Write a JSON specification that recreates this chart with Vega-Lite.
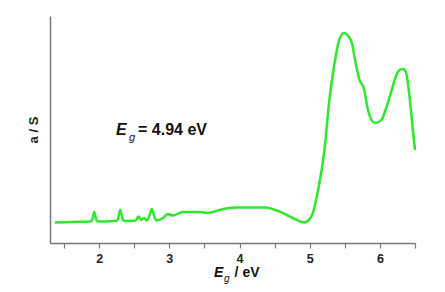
{
  "$schema": "https://vega.github.io/schema/vega-lite/v6.json",
  "width": 365,
  "height": 227,
  "autosize": "none",
  "padding": {"left": 50, "top": 16, "right": 30, "bottom": 49},
  "background": "white",
  "config": {
    "view": {"stroke": null},
    "font": "Liberation Sans"
  },
  "layer": [
    {
      "data": {"values": [
        {"E": 1.37, "a": 20.5}, {"E": 1.6, "a": 21}, {"E": 1.87, "a": 21.5}, {"E": 1.9, "a": 23},
        {"E": 1.93, "a": 31}, {"E": 1.96, "a": 23}, {"E": 1.99, "a": 21.5}, {"E": 2.2, "a": 22},
        {"E": 2.26, "a": 22.5}, {"E": 2.3, "a": 33}, {"E": 2.34, "a": 23}, {"E": 2.37, "a": 22},
        {"E": 2.52, "a": 22.5}, {"E": 2.56, "a": 26.5}, {"E": 2.6, "a": 23}, {"E": 2.64, "a": 25},
        {"E": 2.68, "a": 22.5}, {"E": 2.72, "a": 28}, {"E": 2.75, "a": 34}, {"E": 2.79, "a": 26},
        {"E": 2.82, "a": 22.5}, {"E": 2.91, "a": 25}, {"E": 2.98, "a": 29}, {"E": 3.05, "a": 27.5},
        {"E": 3.19, "a": 31}, {"E": 3.39, "a": 31}, {"E": 3.46, "a": 31}, {"E": 3.53, "a": 30},
        {"E": 3.77, "a": 34}, {"E": 3.96, "a": 35.5}, {"E": 4.2, "a": 35.5}, {"E": 4.36, "a": 35.5},
        {"E": 4.57, "a": 31.5}, {"E": 4.76, "a": 25}, {"E": 4.92, "a": 20.5}, {"E": 5.02, "a": 26},
        {"E": 5.12, "a": 53}, {"E": 5.21, "a": 93}, {"E": 5.28, "a": 143}, {"E": 5.35, "a": 178},
        {"E": 5.42, "a": 203}, {"E": 5.49, "a": 210}, {"E": 5.55, "a": 207}, {"E": 5.6, "a": 200},
        {"E": 5.66, "a": 178}, {"E": 5.71, "a": 163}, {"E": 5.77, "a": 155}, {"E": 5.83, "a": 133},
        {"E": 5.89, "a": 122}, {"E": 5.94, "a": 120}, {"E": 6.02, "a": 123}, {"E": 6.09, "a": 135},
        {"E": 6.16, "a": 151}, {"E": 6.23, "a": 167}, {"E": 6.28, "a": 173}, {"E": 6.33, "a": 174},
        {"E": 6.37, "a": 171}, {"E": 6.42, "a": 148}, {"E": 6.47, "a": 113}, {"E": 6.5, "a": 93}
      ]},
      "mark": {"type": "line", "color": "#2ee82e", "strokeWidth": 2.5, "interpolate": "monotone"},
      "encoding": {
        "x": {
          "field": "E", "type": "quantitative",
          "scale": {"domain": [1.3, 6.5], "nice": false, "zero": false},
          "axis": {
            "title": null,
            "grid": false,
            "values": [1.5, 2, 2.5, 3, 3.5, 4, 4.5, 5, 5.5, 6, 6.5],
            "tickCount": 30,
            "labelExpr": "datum.value % 1 === 0 ? format(datum.value, 'd') : ''",
            "labelOverlap": false,
            "labelFlush": false,
            "labelBound": false,
            "domainColor": "#777777",
            "domainWidth": 1.5,
            "tickColor": "#777777",
            "tickSize": 5,
            "tickWidth": 1.2,
            "labelFont": "Liberation Sans",
            "labelFontWeight": "bold",
            "labelFontSize": 12.5,
            "labelColor": "#222222",
            "labelPadding": 4
          }
        },
        "y": {
          "field": "a", "type": "quantitative",
          "scale": {"domain": [0, 227], "nice": false},
          "axis": {
            "title": "a / S",
            "grid": false,
            "ticks": false,
            "labels": false,
            "domainColor": "#777777",
            "domainWidth": 1.5,
            "titleFont": "Liberation Sans",
            "titleFontWeight": "bold",
            "titleFontSize": 13,
            "titleColor": "#222222",
            "titlePadding": 10
          }
        }
      }
    },
    {
      "data": {"values": [{}]},
      "mark": {"type": "text", "align": "left", "baseline": "alphabetic", "fontSize": 16, "fontWeight": "bold", "fontStyle": "italic", "font": "Liberation Sans", "color": "#111111"},
      "encoding": {"x": {"datum": 2.24}, "y": {"datum": 108}, "text": {"value": "E"}}
    },
    {
      "data": {"values": [{}]},
      "mark": {"type": "text", "align": "left", "baseline": "alphabetic", "fontSize": 11, "fontStyle": "italic", "font": "Liberation Sans", "color": "#111111"},
      "encoding": {"x": {"datum": 2.425}, "y": {"datum": 102}, "text": {"value": "g"}}
    },
    {
      "data": {"values": [{}]},
      "mark": {"type": "text", "align": "left", "baseline": "alphabetic", "fontSize": 16, "fontWeight": "bold", "font": "Liberation Sans", "color": "#111111"},
      "encoding": {"x": {"datum": 2.554}, "y": {"datum": 108}, "text": {"value": "= 4.94 eV"}}
    },
    {
      "data": {"values": [{}]},
      "mark": {"type": "text", "align": "left", "baseline": "alphabetic", "fontSize": 14, "fontWeight": "bold", "fontStyle": "italic", "font": "Liberation Sans", "color": "#111111"},
      "encoding": {"x": {"datum": 3.636}, "y": {"datum": -34}, "text": {"value": "E"}}
    },
    {
      "data": {"values": [{}]},
      "mark": {"type": "text", "align": "left", "baseline": "alphabetic", "fontSize": 10, "fontStyle": "italic", "font": "Liberation Sans", "color": "#111111"},
      "encoding": {"x": {"datum": 3.779}, "y": {"datum": -39}, "text": {"value": "g"}}
    },
    {
      "data": {"values": [{}]},
      "mark": {"type": "text", "align": "left", "baseline": "alphabetic", "fontSize": 14, "fontWeight": "bold", "font": "Liberation Sans", "color": "#111111"},
      "encoding": {"x": {"datum": 3.93}, "y": {"datum": -34}, "text": {"value": "/ eV"}}
    }
  ]
}
